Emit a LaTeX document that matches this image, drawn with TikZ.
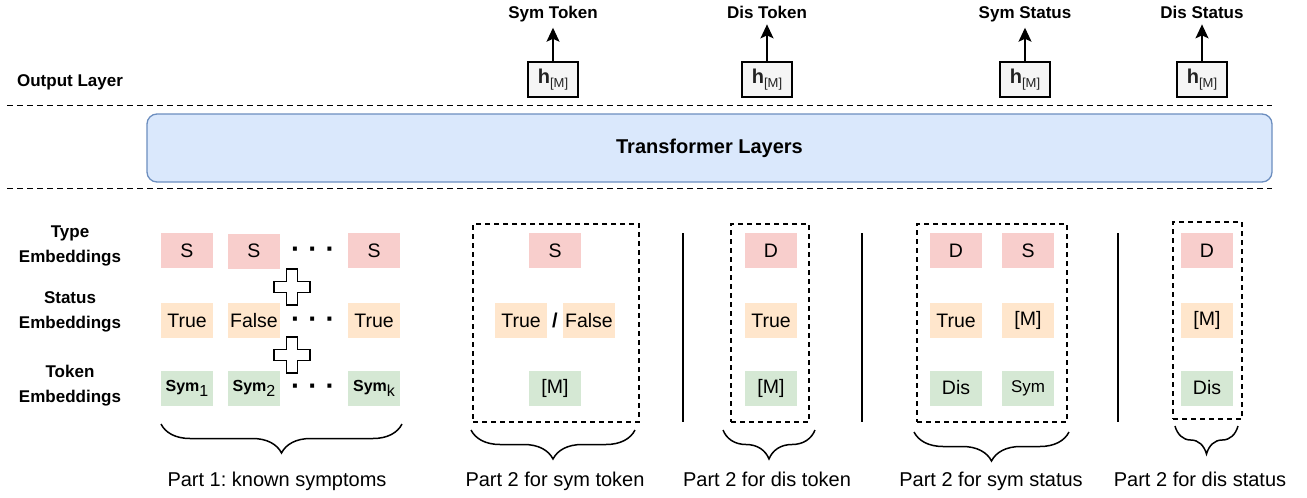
\documentclass[tikz,border=0pt]{standalone}
\usepackage{fontspec}
\setmainfont{Liberation Sans}
\usetikzlibrary{arrows.meta,decorations.pathreplacing}
\frenchspacing

\definecolor{typec}{HTML}{F8CECC}
\definecolor{statc}{HTML}{FFE6CC}
\definecolor{tokc}{HTML}{D5E8D4}
\definecolor{tfill}{HTML}{DAE8FC}
\definecolor{tdraw}{HTML}{6C8EBF}
\definecolor{hfill}{HTML}{F5F5F5}
\definecolor{htext}{HTML}{222222}

\tikzset{
  pics/plussign/.style={code={
    \draw[plusline] (-5.5,-18) -- ++(11,0) -- ++(0,12.5) -- ++(12.5,0) -- ++(0,11)
      -- ++(-12.5,0) -- ++(0,12.5) -- ++(-11,0) -- ++(0,-12.5) -- ++(-12.5,0)
      -- ++(0,-11) -- ++(12.5,0) -- cycle;
  }},
  plusline/.style={draw=black,fill=white,line width=1.4pt,line join=miter}
}

\newcommand{\hm}{{\fontsize{20}{20}\selectfont\bfseries h}\raisebox{-4pt}{\fontsize{13}{13}\selectfont[M]}}
\newcommand{\symsub}[1]{{\bfseries Sym}\raisebox{-5pt}{#1}}
\newcommand{\tdots}{·\hspace{8pt}·\hspace{8pt}·}

\begin{document}
\begin{tikzpicture}[x=1pt,y=-1pt,
  emb/.style={minimum width=52pt,minimum height=35pt,inner sep=0pt,font=\fontsize{19.5}{20}\selectfont},
  typebox/.style={emb,fill=typec},
  statbox/.style={emb,fill=statc},
  tokbox/.style={emb,fill=tokc},
  rowlabel/.style={align=center,inner sep=0pt,font=\fontsize{17}{25}\selectfont\bfseries},
  hbox/.style={draw=black,fill=hfill,line width=1.2pt,minimum width=50pt,minimum height=35pt,inner sep=0pt,text=htext},
  outlabel/.style={font=\fontsize{17}{20}\selectfont\bfseries,inner sep=0pt,anchor=base},
  sepline/.style={dash pattern=on 6pt off 4pt,line width=1.6pt},
  groupbox/.style={draw,dash pattern=on 5pt off 4pt,line width=1.6pt},
  partline/.style={line width=1.6pt},
  bracestyle/.style={decorate,decoration={brace,mirror,amplitude=#1},line width=1.5pt},
  partlabel/.style={font=\fontsize{20}{20}\selectfont,inner sep=0pt,anchor=base},
  arr/.style={-{Stealth[length=14pt,width=13pt,inset=3pt]},line width=1.6pt},
  dotsnode/.style={font=\fontsize{28}{28}\selectfont\bfseries,inner sep=0pt,anchor=base}
]
\useasboundingbox (0,0) rectangle (1307,498);

% ---- output layer ----
\node[outlabel] (outl) at (70,86) {Output Layer};
\node[hbox] (h1) at (553,79.5) {\hm};
\node[hbox] (h2) at (767,79.5) {\hm};
\node[hbox] (h3) at (1025,79.5) {\hm};
\node[hbox] (h4) at (1202,79.5) {\hm};
\node[outlabel] (o1) at (553,18) {Sym Token};
\node[outlabel] (o2) at (767,18) {Dis Token};
\node[outlabel] (o3) at (1025,18) {Sym Status};
\node[outlabel] (o4) at (1202,18) {Dis Status};
\foreach \i in {1,...,4}
  \draw[arr,shorten >=6pt] (h\i) -- (o\i);

% ---- separators and transformer ----
\coordinate (s1a) at (7,105.5);  \coordinate (s1b) at (1272,105.5);
\coordinate (s2a) at (7,188.5);  \coordinate (s2b) at (1272,188.5);
\draw[sepline] (s1a) -- (s1b);
\draw[sepline] (s2a) -- (s2b);
\node[draw=tdraw,fill=tfill,line width=1.3pt,rounded corners=10pt,
      minimum width=1125pt,minimum height=68pt,
      font=\fontsize{20}{20}\selectfont\bfseries] (tf) at (709.5,148) {Transformer Layers};

% ---- row labels ----
\node[rowlabel] (rl1) at (70,245.5) {Type\\Embeddings};
\node[rowlabel] (rl2) at (70,311.5) {Status\\Embeddings};
\node[rowlabel] (rl3) at (70,385.5) {Token\\Embeddings};

% ---- part 1: known symptoms ----
\node[typebox] (a1) at (187,250.5) {S};
\node[typebox] (a2) at (254,251) {S};
\node[typebox] (a3) at (374,250.5) {S};
\node[statbox] (b1) at (187,320.5) {True};
\node[statbox] (b2) at (254,320.5) {False};
\node[statbox] (b3) at (374,320.5) {True};
\node[tokbox] (c1) at (187,388) {\fontsize{16}{16}\selectfont\symsub{1}};
\node[tokbox] (c2) at (254,388) {\fontsize{16}{16}\selectfont\symsub{2}};
\node[tokbox] (c3) at (374,388) {\fontsize{16}{16}\selectfont\symsub{k}};
\node[dotsnode] (d1) at (313,258.5) {\tdots};
\node[dotsnode] (d2) at (313,328.5) {\tdots};
\node[dotsnode] (d3) at (313,395.5) {\tdots};
\pic (p1) at (292,287) {plussign};
\pic (p2) at (292,355) {plussign};

% ---- part 2: sym token ----
\node[typebox] (e1) at (555,250.5) {S};
\node[statbox] (e2) at (521,320.5) {True};
\node[statbox] (e3) at (589,320.5) {False};
\node[inner sep=0pt,font=\fontsize{20}{20}\selectfont\bfseries] (sl) at (555,320) {/};
\node[tokbox] (e4) at (555,388) {[M]};
\node[groupbox,minimum width=166pt,minimum height=198pt] (g1) at (556,323) {};

% ---- part 2: dis token ----
\node[typebox] (f1) at (771,250.5) {D};
\node[statbox] (f2) at (771,320.5) {True};
\node[tokbox] (f3) at (771,388) {[M]};
\node[groupbox,minimum width=78pt,minimum height=198pt] (g2) at (770,323) {};

% ---- part 2: sym status ----
\node[typebox] (k1) at (956,250.5) {D};
\node[typebox] (k2) at (1028,250.5) {S};
\node[statbox] (k3) at (956,320.5) {True};
\node[statbox] (k4) at (1028,320.5) {[M]};
\node[tokbox] (k5) at (956,388) {Dis};
\node[tokbox,font=\fontsize{17}{17}\selectfont] (k6) at (1028,388) {Sym};
\node[groupbox,minimum width=150pt,minimum height=198pt] (g3) at (992,323) {};

% ---- part 2: dis status ----
\node[typebox] (m1) at (1207,250.5) {D};
\node[statbox] (m2) at (1207,320.5) {[M]};
\node[tokbox] (m3) at (1207,388) {Dis};
\node[groupbox,minimum width=69pt,minimum height=197pt] (g4) at (1207.5,320.5) {};

% ---- vertical dividers ----
\coordinate (v1a) at (683,233);  \coordinate (v1b) at (683,422);
\coordinate (v2a) at (862,233);  \coordinate (v2b) at (862,422);
\coordinate (v3a) at (1118,233); \coordinate (v3b) at (1118,422);
\draw[partline] (v1a) -- (v1b);
\draw[partline] (v2a) -- (v2b);
\draw[partline] (v3a) -- (v3b);

% ---- braces and captions ----
\coordinate (br1a) at (161,424);  \coordinate (br1b) at (402,424);
\coordinate (br2a) at (471,430);  \coordinate (br2b) at (635,430);
\coordinate (br3a) at (723,430);  \coordinate (br3b) at (815,430);
\coordinate (br4a) at (914,432);  \coordinate (br4b) at (1069,432);
\coordinate (br5a) at (1175,426); \coordinate (br5b) at (1238,426);
\draw[bracestyle=29] (br1a) -- (br1b);
\draw[bracestyle=29] (br2a) -- (br2b);
\draw[bracestyle=29] (br3a) -- (br3b);
\draw[bracestyle=29] (br4a) -- (br4b);
\draw[bracestyle=28] (br5a) -- (br5b);

\node[partlabel] (pl1) at (277,486) {Part 1: known symptoms};
\node[partlabel] (pl2) at (555,486) {Part 2 for sym token};
\node[partlabel] (pl3) at (767,486) {Part 2 for dis token};
\node[partlabel] (pl4) at (991,486) {Part 2 for sym status};
\node[partlabel] (pl5) at (1200,486) {Part 2 for dis status};
\end{tikzpicture}
\end{document}
